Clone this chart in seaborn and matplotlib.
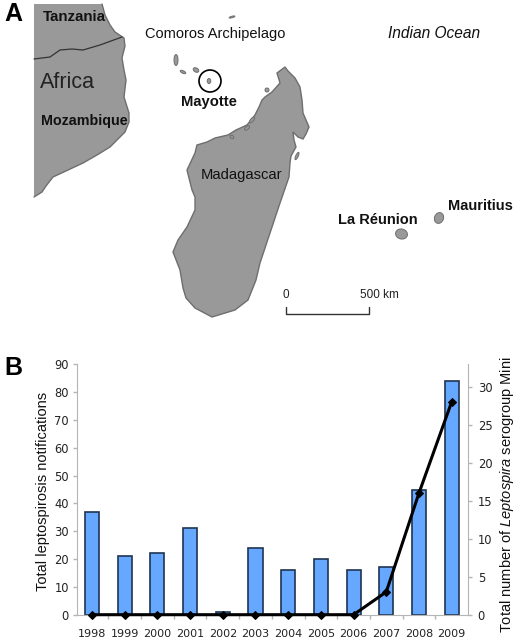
import numpy as np
import pandas as pd
import matplotlib
matplotlib.use('Agg')
import matplotlib.pyplot as plt
from matplotlib.patches import Circle, Ellipse
from matplotlib.ticker import FixedLocator
import seaborn as sns

years = ['1998', '1999', '2000', '2001', '2002', '2003', '2004', '2005', '2006', '2007', '2008', '2009']
notifications = [37, 21, 22, 31, 1, 24, 16, 20, 16, 17, 45, 84]
serogroup_mini = [0, 0, 0, 0, 0, 0, 0, 0, 0, 3, 16, 28]
left_ticks = [0, 10, 20, 30, 40, 50, 60, 70, 80, 90]
right_ticks = [0, 5, 10, 15, 20, 25, 30]

# map outlines in pixels
africa = [(34, 4), (102, 4), (105, 15), (110, 25), (115, 32), (124, 38), (125, 46), (122, 58), (124, 70),
          (126, 80), (124, 97), (129, 113), (129, 122), (125, 132), (118, 139), (110, 147), (97, 155),
          (83, 163), (68, 170), (53, 177), (46, 186), (42, 192), (34, 197)]
border = [(34, 59), (50, 57), (60, 50), (72, 49), (83, 50), (100, 45), (122, 37)]
madagascar = [(285, 67), (288, 71), (295, 78), (300, 87), (302, 100), (303, 113), (309, 127), (306, 134),
              (303, 139), (298, 137), (293, 132), (294, 140), (296, 147), (291, 156), (290, 163), (289, 177),
              (280, 203), (270, 233), (260, 263), (256, 280), (248, 300), (235, 310), (212, 317), (195, 308),
              (186, 298), (183, 288), (180, 270), (173, 252), (178, 240), (187, 227), (195, 210), (195, 197),
              (192, 190), (187, 170), (195, 153), (197, 145), (207, 142), (215, 138), (228, 135), (236, 130),
              (247, 125), (255, 115), (259, 107), (262, 100), (265, 97), (272, 92), (280, 83), (277, 73)]
islands = [(176, 60, 4, 11, 0), (183, 72, 6, 2.5, 25), (196, 70, 6, 4, 30), (209, 81, 3.5, 5, 0),
           (401.5, 234, 12, 10, 15), (439, 218, 9, 11, 20), (232, 17, 6, 1.5, -15), (297, 156, 2.5, 8, 25),
           (267, 90, 4, 4, 0), (232, 137, 4, 3, 30), (247, 128, 6, 3, -40), (252, 120, 7, 3, -50)]

sns.set_style('white')
plt.rcParams['font.family'] = ['Liberation Sans', 'DejaVu Sans']
plt.rcParams['mathtext.fontset'] = 'custom'
plt.rcParams['mathtext.it'] = 'Liberation Sans:italic'
plt.rcParams['mathtext.rm'] = 'Liberation Sans'

fig = plt.figure(figsize=(5.2, 6.4), dpi=100)

# panel A, whole figure in pixel coordinates
m = fig.add_axes([0, 0, 1, 1])
m.set_xlim(0, 520)
m.set_ylim(640, 0)
m.axis('off')
land = '#999999'
coast = '#6e6e6e'
m.fill(*zip(*africa), facecolor=land, edgecolor='none')
m.plot(*zip(*africa[1:]), color=coast, lw=1)
m.plot(*zip(*border), color='#333333', lw=0.9)
m.fill(*zip(*madagascar), facecolor=land, edgecolor=coast, lw=1)
for x, y, w, h, a in islands:
    m.add_patch(Ellipse((x, y), w, h, angle=a, facecolor=land, edgecolor=coast, lw=0.7))
m.add_patch(Circle((210, 81), 11, facecolor='none', edgecolor='black', lw=1.2))
m.plot([286, 286, 369, 369], [307, 314, 314, 307], color='#333333', lw=1)

m.text(4, 14, 'A', fontsize=18, fontweight='bold', va='center', color='black')
m.text(4, 368, 'B', fontsize=18, fontweight='bold', va='center', color='black')
m.text(43, 17, 'Tanzania', fontsize=10.8, fontweight='bold', va='center', color='#111111')
m.text(40, 82, 'Africa', fontsize=15.5, va='center', color='#222222')
m.text(41, 121, 'Mozambique', fontsize=10.3, fontweight='bold', va='center', color='#111111')
m.text(145, 34, 'Comoros Archipelago', fontsize=10.5, va='center', color='#111111')
m.text(181, 102, 'Mayotte', fontsize=10.6, fontweight='bold', va='center', color='#111111')
m.text(201, 175, 'Madagascar', fontsize=10.6, va='center', color='#111111')
m.text(388, 34, 'Indian Ocean', fontsize=11.2, style='italic', va='center', color='#111111')
m.text(338, 220, 'La Réunion', fontsize=10.5, fontweight='bold', va='center', color='#111111')
m.text(448, 206, 'Mauritius', fontsize=10.5, fontweight='bold', va='center', color='#111111')
m.text(286, 295, '0', fontsize=8.5, ha='center', va='center', color='#222222')
m.text(379, 295, '500 km', fontsize=8.5, ha='center', va='center', color='#222222')

# panel B
df = pd.DataFrame({'year': years, 'notifications': notifications, 'mini': serogroup_mini})
df['pos'] = np.arange(len(df))

ax = fig.add_axes([77.3 / 520, 1 - 614.7 / 640, 390.7 / 520, 250.4 / 640])
ax.patch.set_alpha(0)
sns.barplot(data=df, x='year', y='notifications', color='#66a8ff', saturation=1, width=0.43,
            edgecolor='#1e3550', linewidth=1.2, ax=ax)
ax.set_xlim(-0.45, 11.5)
ax.set_ylim(0, 90)
ax.set_yticks(left_ticks)
ax.set_xlabel('')
ax.set_ylabel('')
ax.tick_params(axis='x', which='major', length=0, labelsize=8, pad=10, labelcolor='#222222')
ax.xaxis.set_minor_locator(FixedLocator(np.arange(0.5, 11)))
ax.tick_params(axis='x', which='minor', length=3, color='#b5b5b5', width=1, bottom=True)
ax.tick_params(axis='y', length=3, color='#b5b5b5', width=1, labelsize=8.3, pad=3, labelcolor='#222222', left=True)
for label in ax.get_xticklabels() + ax.get_yticklabels():
    label.set_family('DejaVu Sans')
for s in ['top', 'right']:
    ax.spines[s].set_visible(False)
for s in ['left', 'bottom']:
    ax.spines[s].set_color('#b5b5b5')

ax2 = ax.twinx()
sns.lineplot(data=df, x='pos', y='mini', color='black', lw=2.2, marker='D', markersize=4.5,
             markeredgecolor='black', clip_on=False, ax=ax2, zorder=5)
ax2.set_ylim(0, 32.95)
ax2.set_yticks(right_ticks)
ax2.set_xlabel('')
ax2.set_ylabel('')
ax2.grid(False)
ax2.tick_params(axis='y', length=3, color='#b5b5b5', width=1, labelsize=8.3, pad=4, labelcolor='#222222', right=True)
for label in ax2.get_yticklabels():
    label.set_family('DejaVu Sans')
for s in ['top', 'left', 'bottom']:
    ax2.spines[s].set_visible(False)
ax2.spines['right'].set_color('#b5b5b5')

m.text(43, 491, 'Total leptospirosis notifications', fontsize=10.5, rotation=90, ha='center', va='center', color='#111111')
m.text(507, 495, 'Total number of $\\mathit{Leptospira}$ serogroup Mini', fontsize=10.5, rotation=90,
       ha='center', va='center', color='#111111')

fig.savefig('out.png', dpi=100)
